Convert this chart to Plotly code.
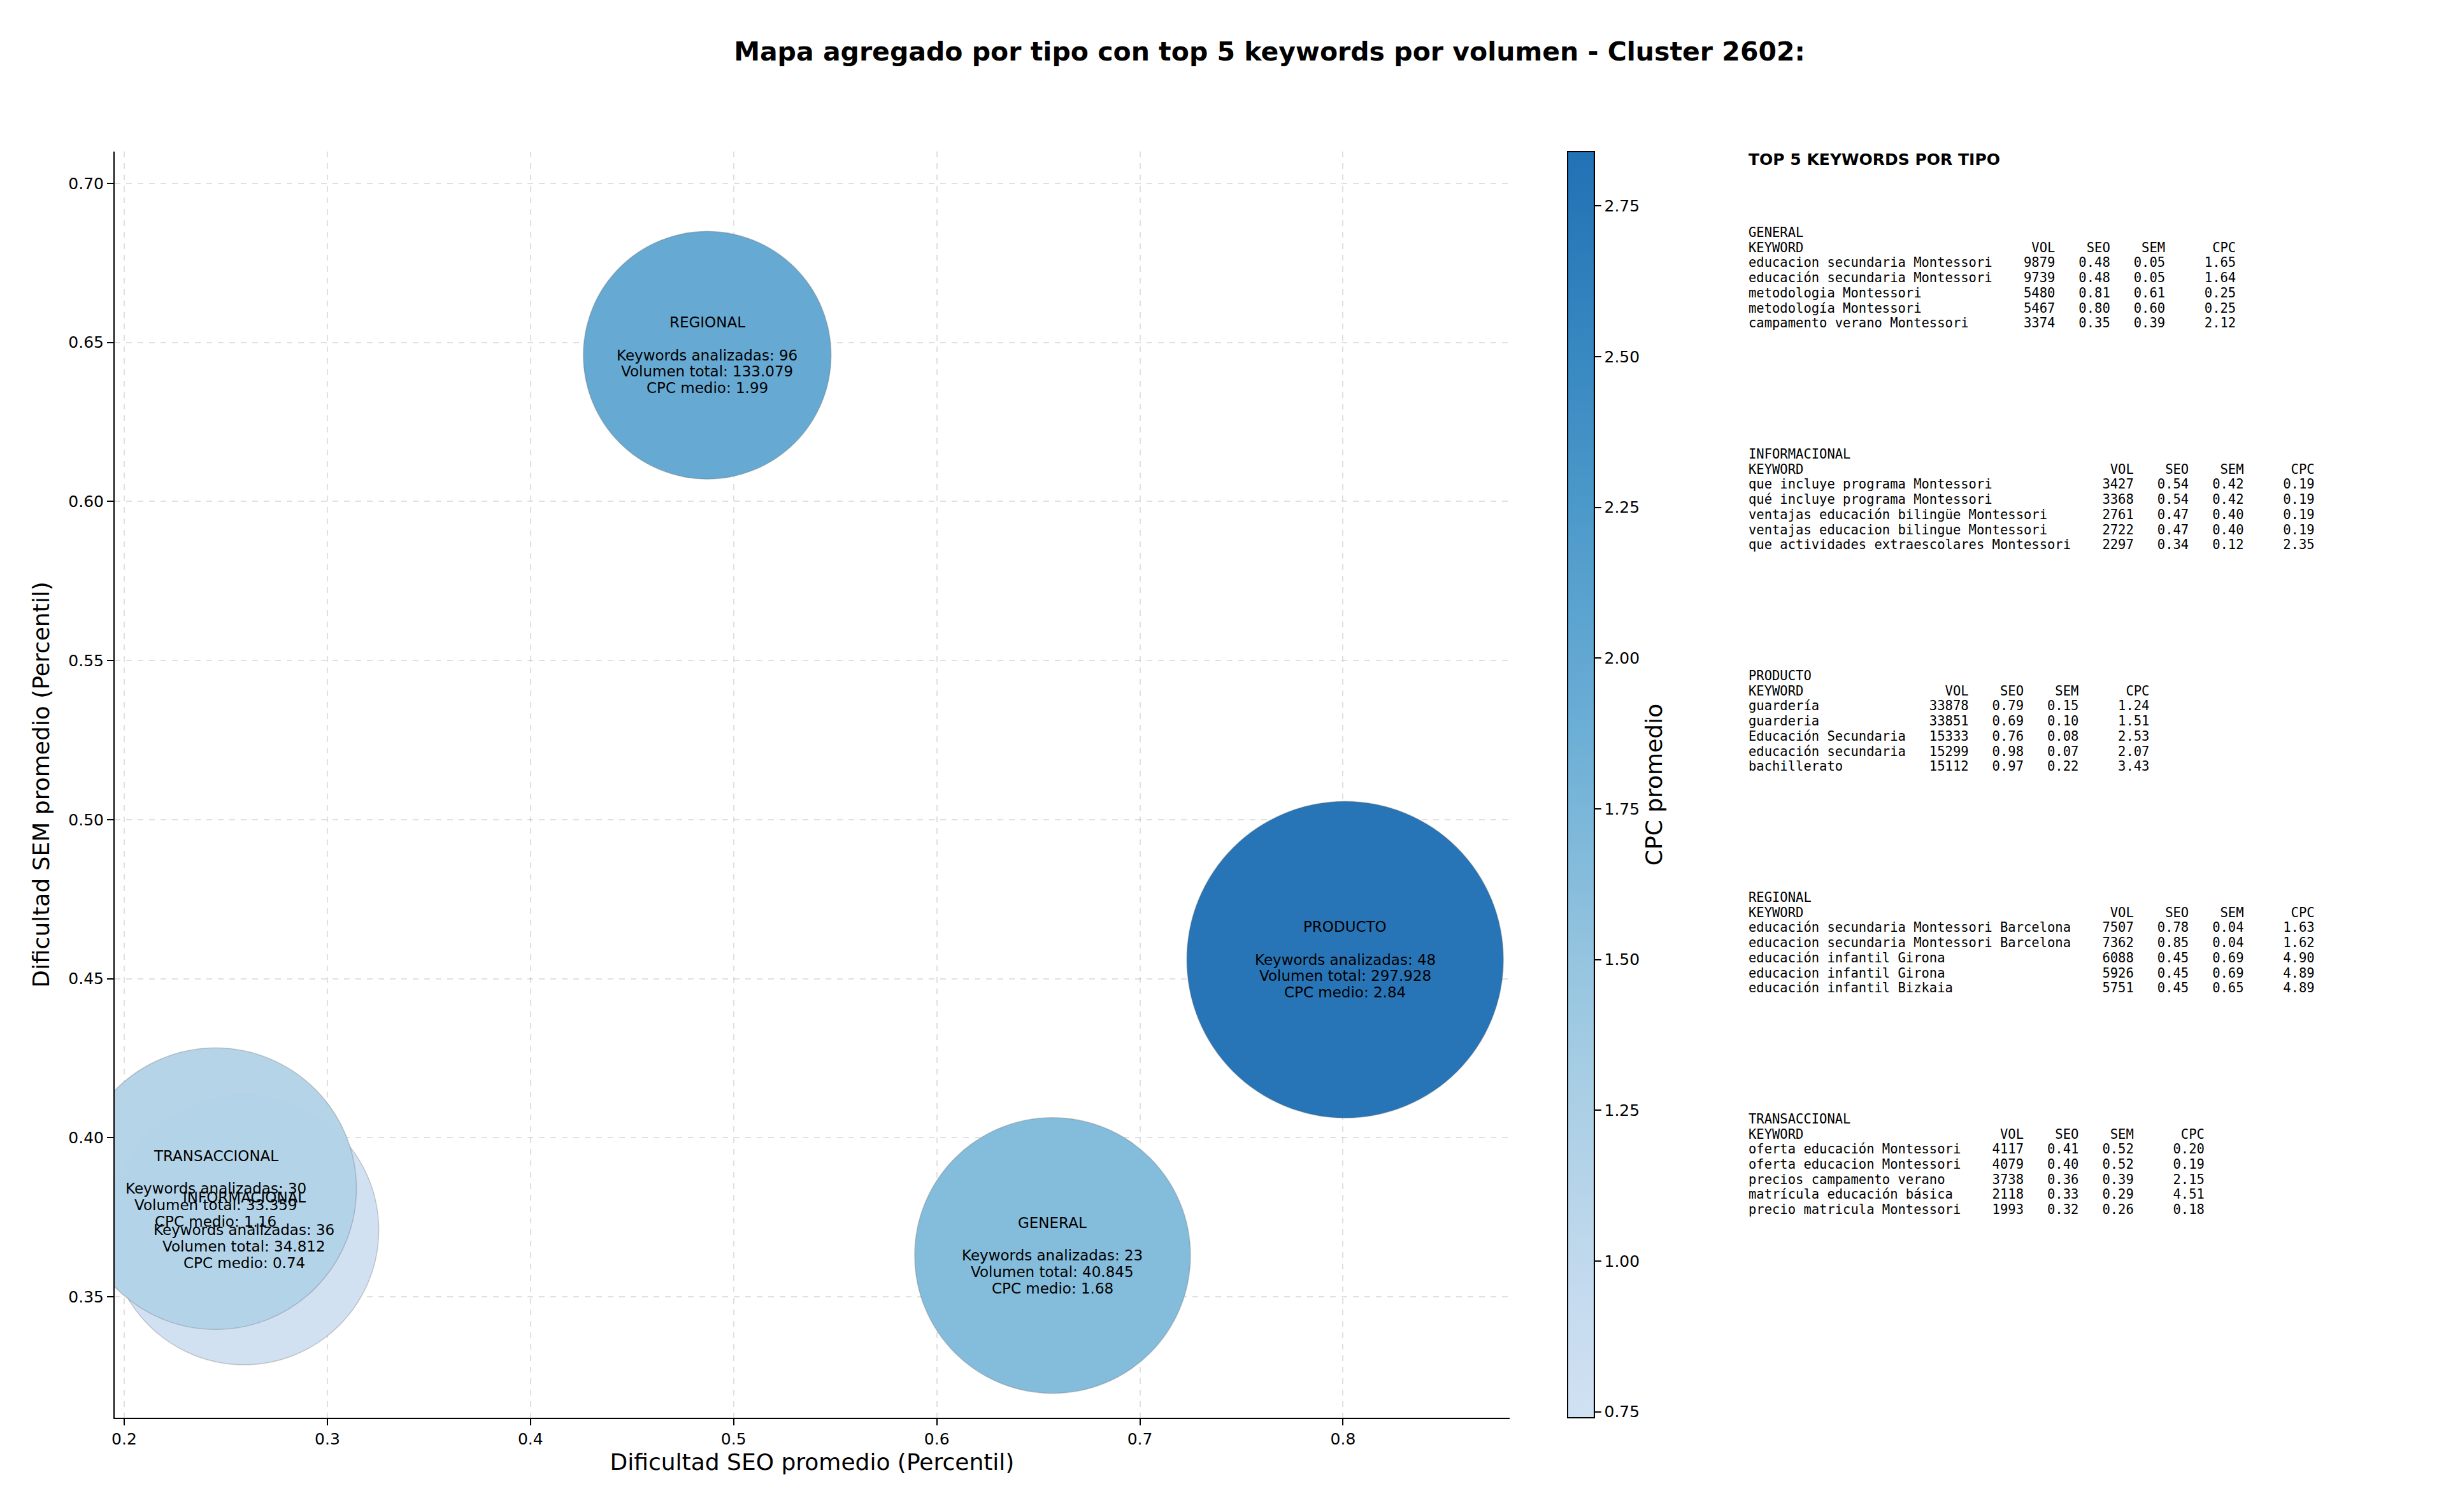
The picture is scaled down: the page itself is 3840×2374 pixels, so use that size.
import plotly.graph_objects as go

# ---------------- data ----------------
tipos = ["GENERAL", "INFORMACIONAL", "PRODUCTO", "REGIONAL", "TRANSACCIONAL"]
seo_promedio = [0.657, 0.259, 0.801, 0.487, 0.245]
sem_promedio = [0.363, 0.371, 0.456, 0.646, 0.384]
keywords_analizadas = [23, 36, 48, 96, 30]
volumen_total = [40845, 34812, 297928, 133079, 33359]
cpc_medio = [1.68, 0.74, 2.84, 1.99, 1.16]

general_kw = ["educacion secundaria Montessori", "educación secundaria Montessori",
              "metodologia Montessori", "metodología Montessori", "campamento verano Montessori"]
general_vol = [9879, 9739, 5480, 5467, 3374]
general_seo = [0.48, 0.48, 0.81, 0.80, 0.35]
general_sem = [0.05, 0.05, 0.61, 0.60, 0.39]
general_cpc = [1.65, 1.64, 0.25, 0.25, 2.12]

informacional_kw = ["que incluye programa Montessori", "qué incluye programa Montessori",
                    "ventajas educación bilingüe Montessori", "ventajas educacion bilingue Montessori",
                    "que actividades extraescolares Montessori"]
informacional_vol = [3427, 3368, 2761, 2722, 2297]
informacional_seo = [0.54, 0.54, 0.47, 0.47, 0.34]
informacional_sem = [0.42, 0.42, 0.40, 0.40, 0.12]
informacional_cpc = [0.19, 0.19, 0.19, 0.19, 2.35]

producto_kw = ["guardería", "guarderia", "Educación Secundaria", "educación secundaria", "bachillerato"]
producto_vol = [33878, 33851, 15333, 15299, 15112]
producto_seo = [0.79, 0.69, 0.76, 0.98, 0.97]
producto_sem = [0.15, 0.10, 0.08, 0.07, 0.22]
producto_cpc = [1.24, 1.51, 2.53, 2.07, 3.43]

regional_kw = ["educación secundaria Montessori Barcelona", "educacion secundaria Montessori Barcelona",
               "educación infantil Girona", "educacion infantil Girona", "educación infantil Bizkaia"]
regional_vol = [7507, 7362, 6088, 5926, 5751]
regional_seo = [0.78, 0.85, 0.45, 0.45, 0.45]
regional_sem = [0.04, 0.04, 0.69, 0.69, 0.65]
regional_cpc = [1.63, 1.62, 4.90, 4.89, 4.89]

transaccional_kw = ["oferta educación Montessori", "oferta educacion Montessori",
                    "precios campamento verano", "matrícula educación básica", "precio matricula Montessori"]
transaccional_vol = [4117, 4079, 3738, 2118, 1993]
transaccional_seo = [0.41, 0.40, 0.36, 0.33, 0.32]
transaccional_sem = [0.52, 0.52, 0.39, 0.29, 0.26]
transaccional_cpc = [0.20, 0.19, 2.15, 4.51, 0.18]

x_ticks = [0.2, 0.3, 0.4, 0.5, 0.6, 0.7, 0.8]
y_ticks = [0.35, 0.40, 0.45, 0.50, 0.55, 0.60, 0.65, 0.70]
cb_ticks = [0.75, 1.00, 1.25, 1.50, 1.75, 2.00, 2.25, 2.50, 2.75]

# ---------------- style ----------------
OFF = 8                                     # default page body margin
W, H = 3840 - 2 * OFF, 2374 - 2 * OFF
PL, PR, PT, PB = 180 - OFF, 2370 - OFF, 238 - OFF, 2226 - OFF   # plot area in figure px
bubble_diam_px = [433, 423, 497, 389, 442]
FONT = "DejaVu Sans"
MONO = "DejaVu Sans Mono"

_blues = [(0.0, (247, 251, 255)), (0.125, (222, 235, 247)), (0.25, (198, 219, 239)),
          (0.375, (158, 202, 225)), (0.5, (107, 174, 214)), (0.625, (66, 146, 198)),
          (0.75, (33, 113, 181)), (0.875, (8, 81, 156)), (1.0, (8, 48, 107))]


def blues(t):
    for (t0, c0), (t1, c1) in zip(_blues[:-1], _blues[1:]):
        if t0 <= t <= t1:
            f = (t - t0) / (t1 - t0)
            return "rgb(%d,%d,%d)" % tuple(round(a + f * (b - a)) for a, b in zip(c0, c1))
    return "rgb(8,48,107)"


N = 12
colorscale = [[i / (N - 1), blues(0.2 + 0.55 * i / (N - 1))] for i in range(N)]

fig = go.Figure()
fig.add_trace(go.Scatter(
    x=seo_promedio, y=sem_promedio, mode="markers",
    marker=dict(size=bubble_diam_px, sizemode="diameter", color=cpc_medio,
                colorscale=colorscale, cmin=min(cpc_medio), cmax=max(cpc_medio),
                opacity=0.97, line=dict(width=1.5, color="rgba(90,90,90,0.3)"),
                colorbar=dict(
                    x=(2461 - OFF - PL) / (PR - PL), xanchor="left", xpad=0, ypad=0,
                    y=0.5, yanchor="middle", len=1.0, lenmode="fraction",
                    thickness=42, thicknessmode="pixels",
                    outlinewidth=2, outlinecolor="black",
                    tickvals=cb_ticks, ticktext=[f"{v:.2f}" for v in cb_ticks],
                    ticks="outside", ticklen=10, tickwidth=2, tickcolor="black",
                    tickfont=dict(family=FONT, size=25, color="black"),
                    title=dict(text="CPC promedio", side="right",
                               font=dict(family=FONT, size=36, color="black")),
                )),
    hoverinfo="skip", showlegend=False, cliponaxis=True,
))

annotations = []

# ------------- bubble labels (one annotation per line, anchored at the bubble) -------------
LINE_H = 25.7
for t, xv, yv, n, v, c in zip(tipos, seo_promedio, sem_promedio, keywords_analizadas,
                              volumen_total, cpc_medio):
    lines = [t, "", f"Keywords analizadas: {n}",
             "Volumen total: " + f"{v:,}".replace(",", "."), f"CPC medio: {c:.2f}"]
    for j, ln in enumerate(lines):
        if not ln:
            continue
        annotations.append(dict(
            text=ln, x=xv, y=yv, xref="x", yref="y", xanchor="center", yanchor="middle",
            yshift=-(j - 2) * LINE_H, showarrow=False,
            font=dict(family=FONT, size=23, color="black")))


# ------------- right side text panel -------------
def px_to_paper_y(ypage):
    return (PB - (ypage - OFF)) / (PB - PT)


panel_x = (2743 - OFF - PL) / (PR - PL)
annotations.append(dict(
    text="<b>TOP 5 KEYWORDS POR TIPO</b>", x=panel_x, y=px_to_paper_y(250),
    xref="paper", yref="paper", xanchor="left", yanchor="middle", showarrow=False,
    font=dict(family=FONT, size=25, color="black")))

blocks = [
    ("GENERAL", general_kw, general_vol, general_seo, general_sem, general_cpc),
    ("INFORMACIONAL", informacional_kw, informacional_vol, informacional_seo, informacional_sem, informacional_cpc),
    ("PRODUCTO", producto_kw, producto_vol, producto_seo, producto_sem, producto_cpc),
    ("REGIONAL", regional_kw, regional_vol, regional_seo, regional_sem, regional_cpc),
    ("TRANSACCIONAL", transaccional_kw, transaccional_vol, transaccional_seo, transaccional_sem, transaccional_cpc),
]
for k, (name, kws, vols, seos, sems, cpcs) in enumerate(blocks):
    w = max(len(s) for s in kws)
    lines = [name, "KEYWORD".ljust(w) + "VOL".rjust(8) + "SEO".rjust(7) + "SEM".rjust(7) + "CPC".rjust(9)]
    for kw, v, s1, s2, c in zip(kws, vols, seos, sems, cpcs):
        lines.append(kw.ljust(w) + str(v).rjust(8) + f"{s1:.2f}".rjust(7)
                     + f"{s2:.2f}".rjust(7) + f"{c:.2f}".rjust(9))
    y0 = 365 + k * 348
    for j, ln in enumerate(lines):
        annotations.append(dict(
            text=ln.replace(" ", "\u00a0"), x=panel_x, y=px_to_paper_y(y0 + j * 23.7),
            xref="paper", yref="paper", xanchor="left", yanchor="middle", showarrow=False,
            font=dict(family=MONO, size=20.5, color="black")))

axis_common = dict(
    showline=True, linewidth=2, linecolor="black", mirror=False,
    ticks="outside", ticklen=10, tickwidth=2, tickcolor="black",
    tickfont=dict(family=FONT, size=25, color="black"),
    showgrid=True, gridcolor="rgba(0,0,0,0.12)", gridwidth=1.5, griddash="dash",
    zeroline=False,
)

fig.update_layout(
    width=W, height=H,
    margin=dict(l=PL, r=W - PR, t=PT, b=H - PB, autoexpand=False),
    paper_bgcolor="white", plot_bgcolor="white",
    title=dict(text="<b>Mapa agregado por tipo con top 5 keywords por volumen - Cluster 2602:</b>",
               x=(1993 - OFF) / W, xanchor="center", xref="container",
               y=1 - (81 - OFF) / H, yanchor="middle", yref="container",
               font=dict(family=FONT, size=41, color="black")),
    xaxis=dict(range=[0.1953, 0.882], tickvals=x_ticks, ticktext=[f"{v:.1f}" for v in x_ticks],
               title=dict(text="Dificultad SEO promedio (Percentil)", standoff=10,
                          font=dict(family=FONT, size=36, color="black")),
               **axis_common),
    yaxis=dict(range=[0.312, 0.710], tickvals=y_ticks, ticktext=[f"{v:.2f}" for v in y_ticks],
               title=dict(text="Dificultad SEM promedio (Percentil)", standoff=19,
                          font=dict(family=FONT, size=36, color="black")),
               **axis_common),
    annotations=annotations,
)

fig.write_html("out.html")
